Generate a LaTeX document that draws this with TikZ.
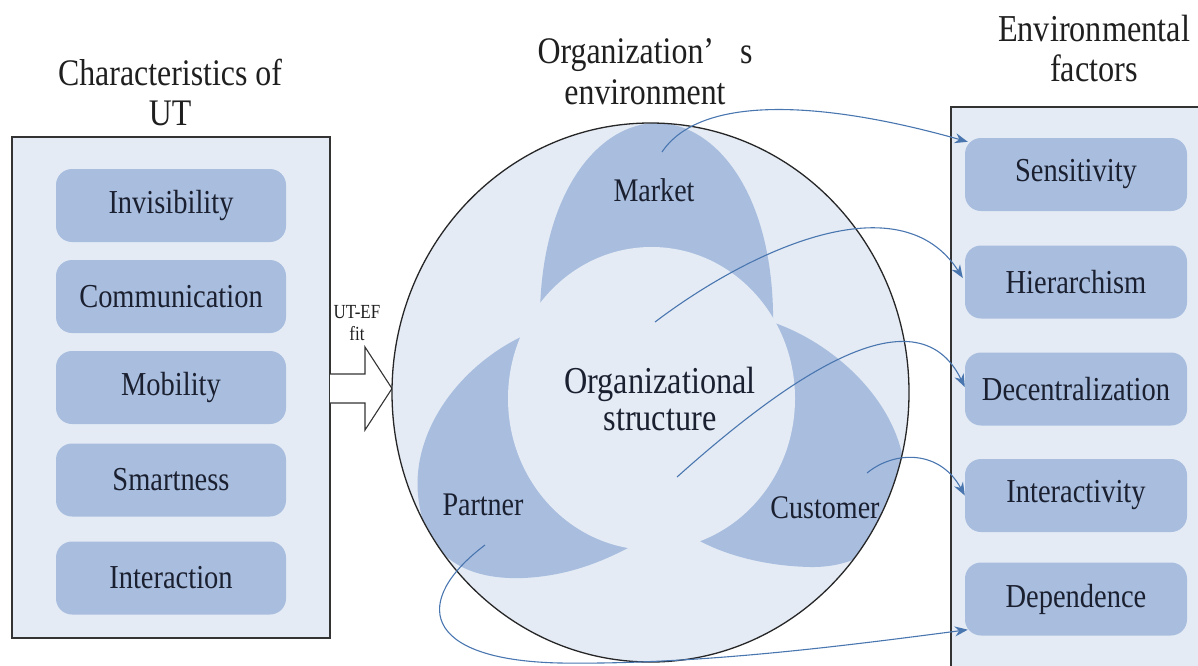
\documentclass[tikz,border=0pt]{standalone}
\usepackage{fontspec}
\setmainfont{Liberation Serif}[FakeStretch=0.85]
\usetikzlibrary{shapes.geometric,arrows.meta,calc}

\definecolor{paleblue}{HTML}{E4EBF5}
\definecolor{petalblue}{HTML}{A9BEDF}
\definecolor{inkblue}{HTML}{1B2030}
\definecolor{linkblue}{HTML}{4A76B0}
\definecolor{framegray}{HTML}{333333}

\tikzset{
  panel/.style={draw=framegray, line width=1.5pt, fill=paleblue},
  itembox/.style={rounded corners=16pt, fill=petalblue, minimum height=73pt,
    text=inkblue, font=\fontsize{33.5}{36}\selectfont, inner sep=0pt},
  leftitem/.style={itembox, minimum width=230pt},
  rightitem/.style={itembox, minimum width=222pt},
  heading/.style={align=center, text=black!88, inner sep=0pt},
  zonelabel/.style={font=\fontsize{33}{36}\selectfont, text=inkblue, inner sep=0pt},
  link/.style={draw=linkblue, line width=1.1pt, -{Stealth[length=13pt,width=10pt]}},
}

\begin{document}
\begin{tikzpicture}[x=1pt,y=-1pt]
\useasboundingbox (0,0) rectangle (1198,665);
\clip (0,0) rectangle (1198,665);

% side panels
\draw[panel] (12,137) rectangle (330,638);
\draw[panel] (951,107) rectangle (1240,700);

% headings
\node[heading, font=\fontsize{37.5}{40}\selectfont] (uthead) at (170,92) {Characteristics of\\UT};
\node[heading, font=\fontsize{37.5}{41}\selectfont] (envhead) at (645,72) {Organization’\hspace{26pt}s\\environment};
\node[heading, font=\fontsize{38}{40}\selectfont] (efhead) at (1094,48) {Environmental\\factors};

% characteristics of UT
\node[leftitem] (inv)  at (171,205.5) {Invisibility};
\node[leftitem] (comm) at (171,296.5) {Communication};
\node[leftitem] (mob)  at (171,387.5) {Mobility};
\node[leftitem] (smart) at (171,480) {Smartness};
\node[leftitem] (inter) at (171,578) {Interaction};

% environmental factors
\node[rightitem] (sens) at (1076,174.5) {Sensitivity};
\node[rightitem] (hier) at (1076,282) {Hierarchism};
\node[rightitem] (dec)  at (1076,389) {Decentralization};
\node[rightitem] (intv) at (1076,495.5) {Interactivity};
\node[rightitem] (dep)  at (1076,599) {Dependence};

% fit arrow
\draw[draw=framegray, line width=1.1pt, fill=white, line join=miter]
  (330,374) -- (365,374) -- (365,347) -- (392,388.5) -- (365,430) -- (365,403) -- (330,403);
\node[heading, font=\fontsize{20}{22}\selectfont] (fitlabel) at (357,323) {UT-EF\\fit};

% organization's environment
\node[ellipse, fill=paleblue, minimum width=517pt, minimum height=539pt, inner sep=0pt] (env) at (650.5,392.5) {};
\begin{scope}
  \clip (650.5,392.5) ellipse [x radius=258.5pt, y radius=269.5pt];
  % market petal
  \fill[petalblue] (540,330) .. controls (537,195) and (598,123) .. (657,123)
    .. controls (716,123) and (776,195) .. (773,330) -- (655,420) -- cycle;
  % partner petal
  \fill[petalblue] (610,420) -- (525,335) .. controls (460,365) and (412,430) .. (418,495)
    .. controls (424,560) and (470,580) .. (523,578)
    .. controls (570,576) and (605,560) .. (630,547) -- cycle;
  % customer petal
  \fill[petalblue] (700,420) -- (772,322) .. controls (840,345) and (905,410) .. (905,480)
    .. controls (905,540) and (860,568) .. (810,567)
    .. controls (765,566) and (725,555) .. (698,540) -- cycle;
\end{scope}
\node[ellipse, fill=paleblue, minimum width=287pt, minimum height=303pt, inner sep=0pt] (core) at (651.5,398.5) {};
\draw[line width=1.3pt, black!85] (env.center) ellipse [x radius=258.5pt, y radius=269.5pt];

% labels inside the environment
\node[zonelabel] (market) at (654,190) {Market};
\node[zonelabel] (partner) at (483,505) {Partner};
\node[zonelabel] (customer) at (825,508) {Customer};
\node[heading, font=\fontsize{38}{37}\selectfont, text=inkblue] (coretext) at (660,398.5) {Organizational\\structure};

% connector origins
\coordinate (m0) at (662,152);
\coordinate (o0) at (655,322);
\coordinate (o1) at (677,477);
\coordinate (c0) at (867,473);
\coordinate (p0) at (485,545);

% connectors
\draw[link] (m0) .. controls (700,95) and (820,100) .. ($(sens.north west)+(3,4)$);
\draw[link] (o0) .. controls (750,250) and (900,180) .. ($(hier.west)+(-2,-4)$);
\draw[link] (o1) .. controls (780,385) and (915,285) .. ($(dec.west)+(0,-2)$);
\draw[link] (c0) .. controls (895,450) and (940,450) .. (intv.west);
\draw[link] (p0) .. controls (412,600) and (420,660) .. (560,663)
  .. controls (700,665) and (850,645) .. ($(dep.south west)+(3,-6)$);
\end{tikzpicture}
\end{document}
